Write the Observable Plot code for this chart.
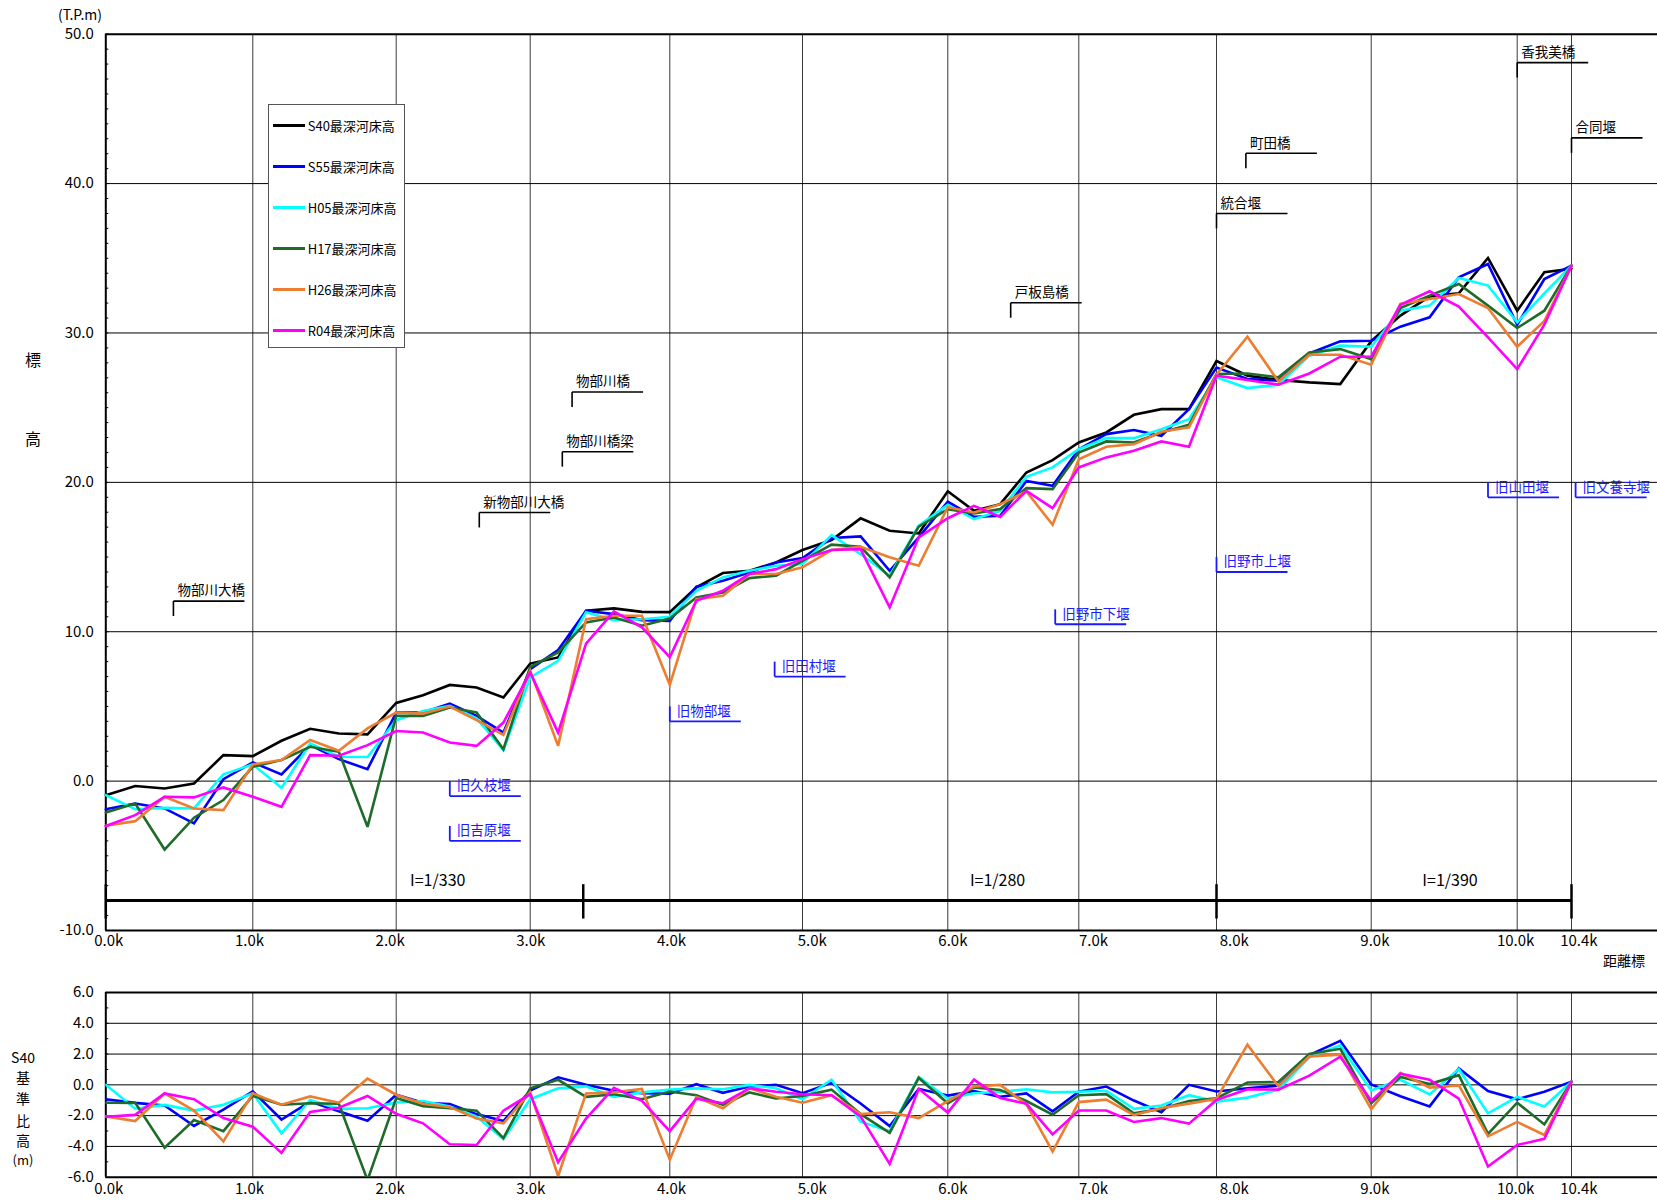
<!DOCTYPE html>
<html><head><meta charset="utf-8">
<script src="https://cdn.jsdelivr.net/npm/d3@7"></script>
<script src="https://cdn.jsdelivr.net/npm/@observablehq/plot@0.6"></script>
<style>
body{margin:0;background:#fff;}
#wrap{position:relative;width:1657px;height:1200px;overflow:hidden;font-family:'Liberation Sans Narrow','Noto Sans CJK JP',sans-serif;color:#000;}
#wrap svg{position:absolute;left:0;}
.abs{position:absolute;transform:translate(-50%,-50%);white-space:nowrap;line-height:1;}
#legend{position:absolute;left:267.7px;top:104.3px;width:137px;height:244px;border:1px solid #555;background:#fff;box-sizing:border-box;}
.li{position:absolute;left:4px;height:16px;transform:translateY(-50%);display:flex;align-items:center;font-size:13px;font-family:'Liberation Sans Narrow','Noto Sans CJK JP',sans-serif;}
.li span.sw{display:inline-block;width:32px;height:3px;margin-right:3px;}
</style></head>
<body><div id="wrap"></div>
<script>
// ---------- data ----------
const stations = [0,0.2,0.4,0.6,0.8,1,1.2,1.4,1.6,1.8,2,2.2,2.4,2.6,2.8,3,3.2,3.4,3.6,3.8,4,4.2,4.4,4.6,4.8,5,5.2,5.4,5.6,5.8,6,6.2,6.4,6.6,6.8,7,7.2,7.4,7.6,7.8,8,8.2,8.4,8.6,8.8,9,9.2,9.4,9.6,9.8,10,10.2,10.4];
const seriesNames = ["S40","S55","H05","H17","H26","R04"];
const S40 = [-0.94,-0.33,-0.49,-0.16,1.74,1.67,2.70,3.50,3.19,3.13,5.23,5.75,6.44,6.27,5.60,7.87,8.28,11.40,11.56,11.33,11.31,12.97,13.93,14.08,14.64,15.47,16.14,17.59,16.76,16.58,19.40,18.09,18.54,20.66,21.49,22.67,23.34,24.52,24.90,24.90,28.12,27.14,26.85,26.69,26.58,29.45,31.16,32.45,32.65,35.02,31.49,34.06,34.30];
const S55 = [-1.88,-1.50,-1.83,-2.83,0.13,1.25,0.45,2.41,1.47,0.80,4.59,4.59,5.19,4.37,3.25,7.49,8.77,11.40,11.18,10.78,10.73,13.01,13.41,13.97,14.64,14.93,16.27,16.38,14.08,16.32,18.70,17.69,17.76,20.10,19.77,22.22,23.23,23.50,23.12,24.90,27.69,26.92,26.80,28.63,29.44,29.48,30.42,31.05,33.72,34.62,30.55,33.61,34.51];
const H05 = [-0.94,-1.88,-1.79,-1.83,0.45,1.12,-0.45,2.52,1.63,1.61,4.08,4.70,5.04,4.21,2.07,6.94,8.05,11.30,10.78,10.84,11.00,12.74,13.64,14.08,14.42,14.53,16.47,15.20,13.75,17.10,18.50,17.54,18.09,20.37,21.00,22.22,22.96,22.96,23.56,24.23,27.03,26.31,26.54,28.48,29.15,29.08,31.49,31.83,33.68,33.17,30.71,32.65,34.51];
const H17 = [-2.10,-1.50,-4.58,-2.45,-1.27,0.96,1.41,2.30,1.96,-3.06,4.37,4.37,4.93,4.59,2.14,7.65,8.61,10.62,10.95,10.40,10.88,12.30,12.63,13.59,13.75,14.75,15.83,15.69,13.64,17.03,18.20,17.92,18.21,19.61,19.55,22.00,22.74,22.67,23.34,23.85,27.25,27.29,27.03,28.70,28.92,28.25,31.67,32.50,33.28,31.83,30.33,31.49,34.51];
const H26 = [-2.99,-2.68,-1.05,-1.83,-1.94,1.12,1.41,2.75,2.03,3.53,4.59,4.52,4.99,4.08,3.10,7.38,2.36,10.84,11.07,11.07,6.45,12.18,12.41,13.86,13.86,14.31,15.47,15.69,14.98,14.42,18.34,17.98,18.54,19.39,17.16,21.55,22.38,22.56,23.39,23.68,27.21,29.75,26.76,28.54,28.54,27.87,31.94,32.27,32.61,31.67,29.08,30.80,34.51];
const R04 = [-3.01,-2.28,-1.05,-1.09,-0.42,-1.05,-1.72,1.74,1.70,2.41,3.35,3.25,2.58,2.36,3.92,7.27,3.25,9.21,11.36,10.29,8.30,12.07,12.74,13.86,14.19,14.86,15.47,15.53,11.63,16.32,17.60,18.43,17.69,19.43,18.27,21.00,21.67,22.11,22.74,22.38,27.14,26.85,26.54,27.29,28.41,28.41,31.89,32.79,31.76,29.71,27.58,30.55,34.51];

const tickKm = [0,1,2,3,4,5,6,7,8,9,10,10.4];
const yTicksTop = [-10,0,10,20,30,40,50];
const yTicksBot = [-6,-4,-2,0,2,4,6];

const bridgeNames = ["物部川大橋","新物部川大橋","物部川橋梁","物部川橋","戸板島橋","統合堰","町田橋","香我美橋","合同堰"];
const bridgeKm = [0.46,2.62,3.23,3.30,6.48,8.0,8.19,10.0,10.4];
const bridgeElev = [12.05,17.98,22.05,26.05,32.02,38.0,42.03,48.1,43.06];

const weirNames = ["旧久枝堰","旧吉原堰","旧物部堰","旧田村堰","旧野市下堰","旧野市上堰","旧山田堰","旧文養寺堰"];
const weirKm = [2.40,2.40,4.0,4.79,6.82,8.0,9.80,10.43];
const weirElev = [-1.0,-4.0,4.0,7.0,10.5,14.0,19.0,19.0];

const gradBreaks = [0,3.38,8.0,10.4];
const gradLabels = ["I=1/330","I=1/280","I=1/390"];
const gradLabelKm = [2.31,6.38,9.54];
const gradElev = -8.0;
const gradLabelElev = -6.7;

// ---------- styles / layout ----------
const colors = {S40:"#000000",S55:"#0000ff",H05:"#00ffff",H17:"#1f6b2a",H26:"#ed7d31",R04:"#ff00ff"};
const FONT = "'Liberation Sans Narrow','Noto Sans CJK JP',sans-serif";
const CJK = "'Noto Sans CJK JP',sans-serif";
const ML = 105.3, W = 1657, KMAX = 11.03;
const xDomain = [...tickKm, KMAX];
// pixel position of each distance marker on the printed sheet (uneven spacing)
const xPx = [105.3,252.3,395.7,529.7,669.3,802,947.3,1078.3,1216,1370.7,1516.7,1571,1657];
const xS = d3.scaleLinear().domain(xDomain).range(xPx);
// piecewise warp of distance so that Plot's linear x scale reproduces the sheet's uneven spacing
const warp = d3.scaleLinear().domain(xDomain).range(xPx.map(p => (p-ML)/(W-ML)*KMAX));
const series = {S40,S55,H05,H17,H26,R04};

const rows = name => stations.map((k,i)=>({km:k, v:series[name][i]}));
const diffRows = name => stations.map((k,i)=>({km:k, v:series[name][i]-S40[i]}));

const bridges = bridgeNames.map((n,i)=>({name:n, km:bridgeKm[i], e:bridgeElev[i]}));
const weirs = weirNames.map((n,i)=>({name:n, km:weirKm[i], e:weirElev[i]}));
const BR = 71; // bracket length px
const endKm = d => xS.invert(xS(d.km)+BR);

const commonX = {domain:[0,KMAX], transform: d => warp(d), label:null};
const gridXOpts = {stroke:"#3a3a3a", strokeOpacity:1, strokeWidth:1};
const mainTicks = tickKm.slice(0, -1);
const lastTick = tickKm.slice(-1);
const fmtK = d => d.toFixed(1) + "k";

const topPlot = Plot.plot({
  width:W, height:975,
  marginLeft:ML, marginRight:0, marginTop:33.7, marginBottom:45,
  style:{fontFamily:FONT, fontSize:"15px", color:"#000", background:"transparent", overflow:"visible"},
  x: commonX,
  y: {domain:[-10,50], label:null},
  marks:[
    Plot.gridX(tickKm.slice(1), gridXOpts),
    Plot.gridY([0,10,20,30,40], {stroke:"#000", strokeOpacity:1, strokeWidth:1}),
    Plot.ruleY([-10,50], {stroke:"#000", strokeWidth:2}),
    Plot.ruleX([0], {stroke:"#000", strokeWidth:2}),
    Plot.axisY({ticks:yTicksTop, tickFormat:d=>d.toFixed(1), tickSize:0, tickPadding:12, fontSize:15}),
    Plot.axisY({ticks:d3.range(-10,51,1), tickSize:3, tickFormat:()=>"", dx:3}),
    Plot.axisX({ticks:mainTicks, tickFormat:fmtK, tickSize:0, tickPadding:5, dx:3, fontSize:15}),
    Plot.axisX({ticks:lastTick, tickFormat:fmtK, tickSize:0, tickPadding:5, dx:10, fontSize:15}),
    // gradient annotation
    Plot.link([0], {x1:()=>gradBreaks[0], x2:()=>gradBreaks[gradBreaks.length-1], y1:()=>gradElev, y2:()=>gradElev, stroke:"#000", strokeWidth:3}),
    Plot.link(gradBreaks, {x1:d=>d, x2:d=>d, y1:()=>gradElev+1.1, y2:()=>gradElev-1.2, stroke:"#000", strokeWidth:2.5}),
    Plot.text(gradLabels, {x:(d,i)=>gradLabelKm[i], y:()=>gradLabelElev, text:d=>d, fontSize:16, fontFamily:FONT, fill:"#000"}),
    // bridges (black brackets)
    Plot.link(bridges, {x1:"km", x2:"km", y1:"e", y2:d=>d.e-1.0, stroke:"#000", strokeWidth:1.6}),
    Plot.link(bridges, {x1:"km", x2:endKm, y1:"e", y2:"e", stroke:"#000", strokeWidth:1.6}),
    Plot.text(bridges, {x:"km", y:"e", text:"name", textAnchor:"start", dx:4, dy:-10, fontSize:13.5, fontFamily:CJK, fill:"#000"}),
    // old weirs (blue brackets)
    Plot.link(weirs, {x1:"km", x2:"km", y1:"e", y2:d=>d.e+1.0, stroke:"#1a1aff", strokeWidth:1.8}),
    Plot.link(weirs, {x1:"km", x2:endKm, y1:"e", y2:"e", stroke:"#1a1aff", strokeWidth:1.8}),
    Plot.text(weirs, {x:"km", y:"e", text:"name", textAnchor:"start", dx:7, dy:-10, fontSize:13.5, fontFamily:CJK, fill:"#1a1aff"}),
    // profiles
    ...seriesNames.map(n => Plot.line(rows(n), {x:"km", y:"v", stroke:colors[n], strokeWidth:2.6, strokeLinejoin:"miter", strokeMiterlimit:3}))
  ]
});
topPlot.style.top = "0px";

const botPlot = Plot.plot({
  width:W, height:225,
  marginLeft:ML, marginRight:0, marginTop:17, marginBottom:23.3,
  style:{fontFamily:FONT, fontSize:"15px", color:"#000", background:"transparent", overflow:"visible"},
  x: commonX,
  y: {domain:[-6,6], label:null},
  marks:[
    Plot.gridX(tickKm.slice(1), gridXOpts),
    Plot.gridY([-4,-2,0,2,4], {stroke:"#000", strokeOpacity:1, strokeWidth:1}),
    Plot.ruleY([-6,6], {stroke:"#000", strokeWidth:2}),
    Plot.ruleX([0], {stroke:"#000", strokeWidth:2}),
    Plot.axisY({ticks:yTicksBot, tickFormat:d=>d.toFixed(1), tickSize:0, tickPadding:12, fontSize:15}),
    Plot.axisY({ticks:d3.range(-6,7,1), tickSize:3, tickFormat:()=>"", dx:3}),
    Plot.axisX({ticks:mainTicks, tickFormat:fmtK, tickSize:0, tickPadding:6, dx:3, fontSize:15}),
    Plot.axisX({ticks:lastTick, tickFormat:fmtK, tickSize:0, tickPadding:6, dx:10, fontSize:15}),
    ...seriesNames.slice(1).map(n => Plot.line(diffRows(n), {x:"km", y:"v", stroke:colors[n], strokeWidth:2.6, strokeLinejoin:"miter", strokeMiterlimit:3, clip:true}))
  ]
});
botPlot.style.top = "975px";

const wrap = document.getElementById("wrap");
wrap.appendChild(topPlot);
wrap.appendChild(botPlot);

// text overlays
function addText(t, x, y, size, fam){
  const d = document.createElement("div");
  d.className = "abs"; d.textContent = t;
  d.style.left = x+"px"; d.style.top = y+"px"; d.style.fontSize = size+"px";
  if (fam) d.style.fontFamily = fam;
  wrap.appendChild(d);
}
addText("(T.P.m)", 80, 14, 14);
addText("標", 33, 359, 16, CJK);
addText("高", 33, 437.5, 16, CJK);
addText("距離標", 1624, 960, 14, CJK);
addText("S40", 23, 1057, 14);
addText("基", 23, 1077, 14, CJK);
addText("準", 23, 1098, 14, CJK);
addText("比", 23, 1120, 14, CJK);
addText("高", 23, 1140, 14, CJK);
addText("(m)", 23, 1159, 13);

// legend
const lg = document.createElement("div"); lg.id = "legend";
const rowY = [20.7,61.4,102.7,143.4,184.4,225.7];
seriesNames.forEach((n,i)=>{
  const r = document.createElement("div"); r.className = "li"; r.style.top = rowY[i]+"px";
  const sw = document.createElement("span"); sw.className = "sw"; sw.style.background = colors[n];
  const tx = document.createElement("span"); tx.textContent = n + "最深河床高";
  r.appendChild(sw); r.appendChild(tx); lg.appendChild(r);
});
wrap.appendChild(lg);
</script></body></html>
